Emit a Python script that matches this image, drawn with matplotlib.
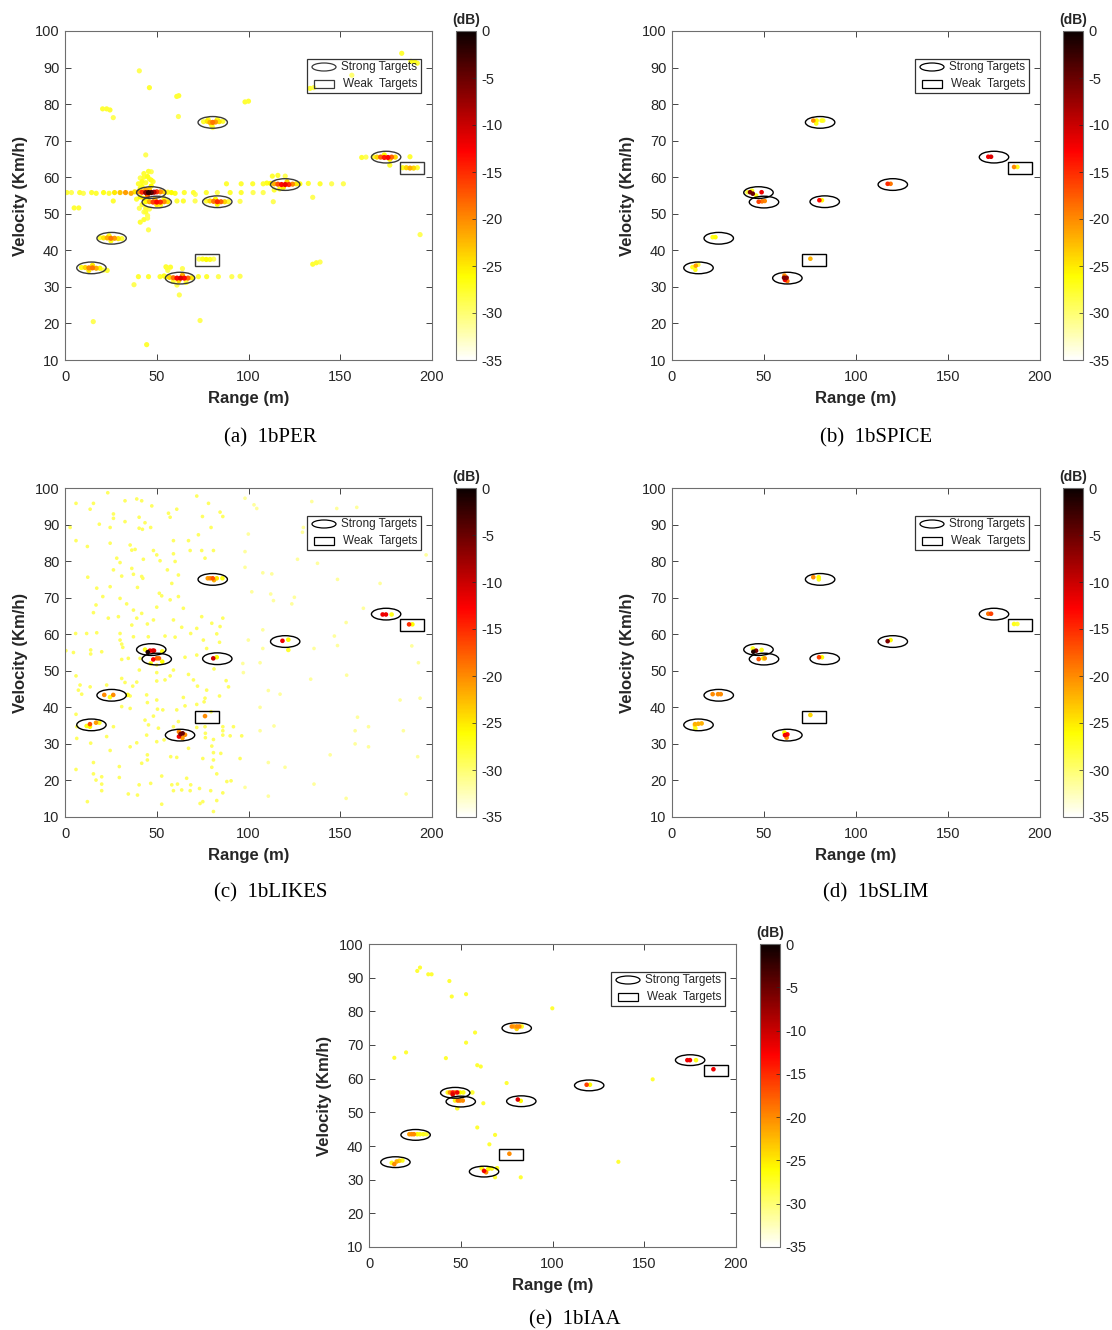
import matplotlib
matplotlib.use("Agg")
import matplotlib.pyplot as plt
import numpy as np
from matplotlib.patches import Ellipse, Rectangle
from matplotlib.cm import ScalarMappable
from matplotlib.colors import Normalize

plt.rcParams["font.family"] = ["Liberation Sans", "DejaVu Sans"]
plt.rcParams["axes.unicode_minus"] = False

# ---------------- data ----------------
X_TICKS = [0, 50, 100, 150, 200]
Y_TICKS = [10, 20, 30, 40, 50, 60, 70, 80, 90, 100]
CB_TICKS = [-35, -30, -25, -20, -15, -10, -5, 0]

# target markers (range m, velocity km/h)
STRONG_R = [80.5, 175, 120, 47, 50, 83, 25.4, 14.4, 62.7]
STRONG_V = [75, 65.5, 58, 55.8, 53.2, 53.3, 43.3, 35.2, 32.4]
WEAK_R = [77.4, 189.3]
WEAK_V = [37.4, 62.5]

# (a) periodogram: peaks (range, velocity, dB)
PER_PEAKS = [
    (75.5, 75.2, -28), (77.5, 75.3, -25), (79, 75, -22), (80.5, 75, -19), (82, 75.1, -21),
    (84, 75.2, -25), (86, 75.3, -28), (80, 74.2, -27), (80.5, 73.6, -29), (78, 75.8, -27), (83, 75.8, -27),
    (168, 65.6, -28), (170, 65.5, -24), (172, 65.5, -18), (174, 65.4, -14), (176, 65.4, -13),
    (178, 65.5, -18), (180, 65.5, -24), (174, 66.1, -26), (177, 64.9, -25),
    (112, 58.3, -26), (114, 58.2, -22), (116, 58.1, -17), (118, 58, -13), (120, 58, -12),
    (122, 58, -15), (124, 58.1, -20), (126, 58.2, -25), (119, 57.2, -25), (121, 58.8, -24),
    (113, 60.3, -28), (116, 60.5, -28), (120, 60.3, -29), (114, 56.5, -28), (117, 56.8, -27),
    (38, 56, -25), (40, 56, -21), (42, 55.9, -15), (44, 55.8, -7), (45.5, 55.8, -2), (47, 55.8, -4),
    (48.5, 55.9, -9), (50, 56, -15), (52, 56, -20), (54, 56, -24), (56, 55.9, -27), (44, 56.6, -22),
    (46, 56.7, -23), (45, 55, -18), (42, 57.5, -27), (44, 58.5, -28), (46, 59.5, -28), (43, 61, -28),
    (45, 60.2, -27), (41, 57, -27), (47, 57.6, -26), (41, 54.6, -26), (43, 54.2, -25), (45, 53.8, -27),
    (42, 52.5, -28), (44, 51.5, -28), (43, 50.5, -29), (45, 49.5, -29),
    (40, 58.2, -28), (48, 58.8, -28), (41, 59.8, -29), (47, 61.5, -29), (39, 54, -28), (40.5, 51.5, -29),
    (44, 53.3, -26), (46, 53.3, -22), (48, 53.2, -16), (50, 53.2, -13), (52, 53.2, -15),
    (54, 53.3, -20), (56, 53.3, -25), (50, 52.5, -25), (49, 54, -24), (52, 52.4, -27), (54, 54.1, -27),
    (77, 53.5, -28), (79, 53.5, -24), (81, 53.4, -19), (83, 53.3, -15), (85, 53.3, -18),
    (87, 53.3, -24), (89, 53.3, -28), (83, 52.6, -26), (82, 54, -26),
    (19, 43.5, -28), (21, 43.4, -25), (23, 43.4, -22), (25, 43.3, -19), (27, 43.3, -21),
    (29, 43.2, -25), (31, 43.2, -28), (25, 42.6, -27), (24, 44, -27),
    (9, 35.3, -27), (11, 35.3, -24), (13, 35.2, -20), (15, 35.2, -19), (17, 35.1, -22),
    (19, 35.1, -26), (13, 34.5, -25), (15, 35.9, -25), (21, 34.6, -29), (23, 34.5, -28),
    (55, 32.7, -27), (57, 32.6, -24), (59, 32.5, -19), (61, 32.4, -13), (63, 32.4, -11),
    (65, 32.4, -13), (67, 32.4, -18), (69, 32.5, -25), (62, 31.7, -24), (64, 33.2, -22),
    (59, 31.5, -28), (66, 31.2, -28), (56, 34.5, -29), (64, 35, -29), (55, 35.5, -28), (61, 30.5, -29),
    (73, 37.6, -29), (75, 37.6, -27), (77, 37.5, -26), (79, 37.5, -27), (81, 37.6, -29),
    (184, 62.6, -27), (186, 62.6, -24), (188, 62.5, -22), (190, 62.5, -24), (192, 62.6, -28),
]

# (a) periodogram: sidelobe rows, streaks and isolated spots
PER_SIDELOBES = [
    (1, 55.8, -28), (3.5, 55.8, -29), (8, 55.8, -28), (10, 55.6, -29), (14.5, 55.8, -28),
    (17, 55.6, -28), (21, 55.8, -27), (24, 55.6, -28), (27, 55.8, -25), (30, 55.8, -23),
    (33, 55.8, -21), (36, 55.6, -22), (58, 55.8, -26), (60, 55.6, -27), (65, 55.8, -28),
    (70, 55.8, -28), (71, 55.3, -29), (77, 55.8, -28), (83, 55.8, -29), (90, 55.8, -28),
    (96, 55.8, -28), (102.5, 55.8, -29), (108, 55.8, -29),
    (26.3, 53.5, -28), (61, 53.5, -28), (64.5, 53.5, -28), (70.9, 53.5, -29), (95.4, 53.4, -29),
    (113.5, 53.3, -29),
    (88, 58.2, -28), (96, 58.2, -28), (102.3, 58.2, -28), (108, 58.2, -28), (110, 58.4, -27),
    (128, 58.2, -27), (132.6, 58.3, -28), (139, 58.2, -28), (145.3, 58.2, -29), (151.7, 58.2, -29),
    (40, 32.8, -28), (45.5, 32.8, -28), (51.8, 32.8, -28), (54, 33, -27), (72.7, 32.8, -28),
    (77.2, 32.8, -28), (83.6, 32.8, -29), (90.9, 32.8, -29), (95.4, 32.9, -29),
    (44, 66.1, -29), (45.5, 61.6, -28), (43, 60, -28), (47, 59.2, -27), (42, 58.8, -27),
    (44, 50.5, -28), (46, 51.3, -29), (41, 47.7, -28), (43, 48.4, -28), (45, 48.8, -29), (45.5, 45.6, -29),
    (40.5, 89.1, -29), (46, 84.5, -28), (60.9, 82.1, -28), (62, 82.3, -28), (61.8, 76.6, -29),
    (20.5, 78.7, -28), (22.7, 78.7, -28), (24.5, 78.4, -28), (26.3, 76.3, -29), (98.1, 80.6, -28),
    (100, 80.8, -28), (133.5, 84.3, -28), (135.5, 84.5, -29), (156.3, 87.9, -30), (183.5, 93.9, -28),
    (188.5, 91.7, -27), (190.5, 91.6, -27), (192, 91.2, -28), (188, 65.6, -28), (177, 63.3, -28),
    (161.7, 65.4, -28), (164, 65.5, -29), (193.5, 44.3, -29), (135, 36.2, -28), (137, 36.6, -28),
    (139, 36.8, -29), (5, 51.6, -28), (7.5, 51.6, -28), (15.4, 20.5, -29), (44.5, 14.2, -28),
    (73.6, 20.8, -29), (62.3, 27.8, -29), (37.6, 30.6, -29), (135, 54.5, -29), (55.4, 35.3, -28),
    (57.5, 35.4, -28),
]

# (b) SPICE
SPICE_PEAKS = [
    (76.8, 75.5, -20), (78.6, 75.5, -26), (78.4, 74.7, -27), (81.3, 75.5, -27), (82.2, 75.5, -28),
    (171.9, 65.6, -12), (173.4, 65.6, -11), (185.9, 62.8, -20), (187.7, 62.8, -27),
    (117.2, 58.2, -15), (118.8, 58.2, -19),
    (41.0, 55.9, -28), (42.4, 55.9, -6), (43.9, 55.5, -5), (43.5, 56.3, -27), (45.7, 55.0, -27), (48.7, 55.9, -12),
    (47.1, 53.3, -16), (48.9, 53.4, -19), (50.4, 53.5, -20), (80.1, 53.7, -13), (81.5, 53.7, -26),
    (22.1, 43.6, -27), (23.6, 43.6, -26),
    (11.1, 35.4, -27), (12.9, 35.8, -21), (14.3, 36.1, -28), (12.7, 34.7, -27),
    (61.1, 33.1, -20), (60.9, 32.5, -6), (62.3, 32.5, -7), (61.4, 31.9, -12), (62.7, 31.6, -19),
    (75.2, 37.7, -22),
]

# (c) LIKES
LIKES_PEAKS = [
    (77.8, 75.3, -21), (79.1, 75.3, -20), (80.5, 75.3, -17), (81.2, 74.8, -22), (82.7, 75.3, -25), (85.8, 75.3, -27),
    (173.1, 65.4, -12), (174.9, 65.4, -12), (178.0, 65.4, -27), (187.5, 62.7, -15), (189.3, 62.7, -26),
    (118.5, 58.2, -12), (121.7, 58.5, -26), (121.7, 55.7, -28),
    (43.6, 55.8, -27), (45.1, 55.1, -1), (46.3, 55.5, -12), (47.8, 55.5, -11), (48.5, 55.5, -12), (53.0, 55.3, -27),
    (48.1, 53.1, -13), (50.0, 53.4, -18), (51.2, 53.4, -18), (53.0, 52.5, -26), (46.7, 52.0, -27),
    (80.8, 53.4, -10), (82.7, 53.7, -26),
    (21.4, 43.4, -20), (26.3, 43.4, -20), (24.5, 42.8, -27), (34.2, 43.4, -27),
    (13.6, 35.4, -17), (16.9, 35.8, -21), (18.7, 35.8, -27), (11.8, 34.9, -27), (13.6, 34.7, -26),
    (62.1, 33.3, -20), (63.0, 32.7, -6), (64.1, 32.9, -5), (65.4, 32.5, -20), (62.1, 32.0, -12), (64.0, 31.6, -21),
    (76.3, 37.6, -20),
]
LIKES_NOISE_DB = -29.5
LIKES_NOISE = [
    (23.3, 98.7), (6.0, 95.8), (15.5, 95.8), (13.7, 94.2), (32.7, 96.5), (39.1, 97.0), (41.8, 96.5),
    (47.3, 95.1), (26.4, 92.9), (26.4, 91.7), (32.7, 90.8), (40.4, 92.0), (43.6, 90.5), (18.7, 90.1),
    (2.8, 89.2), (24.6, 89.2), (40.4, 89.0), (42.2, 88.7), (46.7, 89.2), (56.4, 93.1), (57.3, 92.0),
    (60.9, 94.2), (71.8, 97.8), (78.2, 95.8), (84.5, 93.4), (86.0, 92.2), (74.9, 92.2), (79.6, 89.2),
    (72.7, 87.2), (59.1, 85.6), (67.3, 85.6), (6.0, 85.6), (12.2, 84.0), (24.6, 84.9), (35.5, 84.4),
    (36.4, 83.0), (38.2, 83.2), (48.2, 82.9), (50.0, 81.7), (59.1, 82.0), (68.2, 82.9), (74.5, 82.9),
    (80.9, 82.9), (76.3, 80.8), (28.2, 80.8), (30.0, 79.6), (42.7, 80.5), (51.8, 80.1), (60.0, 79.9),
    (55.8, 77.6), (61.8, 76.2), (26.4, 77.6), (36.4, 78.0), (37.3, 76.4), (41.8, 75.8), (42.4, 75.3),
    (30.9, 75.9), (12.4, 75.6), (17.3, 72.6), (24.6, 73.0), (39.5, 72.8), (51.4, 71.2), (52.7, 70.5),
    (58.2, 73.9), (61.8, 70.3), (20.6, 70.3), (16.9, 68.0), (33.6, 68.3), (30.0, 69.8), (37.3, 66.6),
    (41.8, 65.7), (50.0, 67.4), (57.3, 69.4), (15.5, 65.9), (23.6, 64.4), (29.1, 64.8), (39.1, 64.4),
    (36.4, 62.5), (44.9, 62.8), (48.2, 63.9), (59.1, 63.9), (64.5, 67.1), (74.5, 64.8), (80.0, 63.0),
    (86.0, 64.4), (63.6, 61.9), (71.8, 61.6), (84.5, 62.1), (5.8, 60.2), (11.8, 60.2), (17.3, 60.4),
    (30.0, 60.2), (37.3, 59.3), (45.4, 59.3), (54.5, 59.5), (60.0, 59.2), (68.5, 60.2), (82.7, 60.1),
    (75.4, 58.4), (84.2, 57.8), (0.5, 55.5), (4.6, 55.0), (14.0, 55.7), (14.0, 54.6), (20.0, 55.2),
    (30.9, 57.3), (30.0, 58.4), (31.5, 56.4), (34.5, 53.4), (30.9, 53.1), (40.9, 53.4), (40.5, 50.2),
    (50.0, 51.6), (50.0, 49.5), (59.1, 50.2), (65.4, 53.7), (71.8, 54.3), (77.2, 56.1), (81.2, 50.5),
    (6.0, 48.6), (8.2, 46.1), (13.7, 45.6), (22.7, 46.1), (30.9, 47.9), (32.7, 46.8), (36.9, 45.8),
    (39.1, 46.9), (50.0, 47.2), (54.5, 47.5), (44.5, 43.4), (57.3, 48.6), (67.3, 49.0), (70.0, 47.5),
    (72.2, 45.8), (77.2, 44.7), (84.2, 43.1), (87.8, 47.3), (89.1, 45.6), (7.3, 44.7), (9.1, 43.6),
    (35.5, 43.1), (30.9, 40.2), (35.5, 39.7), (44.9, 41.3), (50.0, 42.0), (53.3, 39.3), (50.4, 39.5),
    (60.9, 39.3), (65.4, 40.4), (64.5, 42.7), (71.8, 40.8), (75.8, 41.5), (76.3, 42.5), (79.6, 38.8),
    (6.0, 38.1), (6.4, 34.7), (6.4, 31.5), (14.0, 30.2), (24.6, 28.2), (22.7, 32.0), (26.4, 34.7),
    (39.1, 30.3), (44.5, 32.4), (35.5, 29.2), (50.9, 34.3), (45.5, 35.2), (43.6, 36.5), (48.2, 37.6),
    (50.0, 30.6), (54.0, 31.1), (59.1, 34.7), (61.8, 36.1), (67.3, 28.8), (71.8, 34.5), (76.3, 34.7),
    (76.5, 32.9), (76.5, 31.7), (80.9, 31.2), (86.0, 34.7), (86.0, 33.6), (86.0, 32.4), (80.0, 29.4),
    (90.0, 32.2), (91.8, 34.7), (96.3, 32.2), (6.0, 23.0), (15.5, 24.9), (15.5, 21.8), (16.9, 20.1),
    (20.0, 21.0), (20.0, 19.0), (20.0, 17.2), (29.6, 23.8), (29.6, 20.8), (34.5, 16.3), (39.5, 16.0),
    (40.4, 18.8), (46.7, 19.2), (44.9, 27.0), (44.9, 25.6), (41.8, 24.7), (52.7, 21.2), (52.7, 13.5),
    (57.6, 26.5), (60.9, 26.3), (58.2, 18.8), (59.1, 17.2), (61.3, 19.0), (63.6, 17.4), (66.3, 20.6),
    (68.2, 17.2), (68.5, 18.8), (73.3, 17.8), (73.6, 13.7), (75.1, 14.2), (75.1, 26.0), (80.9, 25.6),
    (80.0, 23.6), (80.9, 27.6), (79.4, 17.2), (82.7, 14.5), (86.0, 16.6), (88.2, 19.7), (82.7, 21.8),
    (84.9, 27.4), (90.5, 19.9), (12.2, 14.2), (95.4, 26.0), (80.9, 11.5),
]
LIKES_FAINT_DB = -31.5
LIKES_FAINT = [
    (98.1, 97.2), (103.0, 95.4), (104.5, 94.4), (99.9, 87.4), (134.5, 96.3), (148.1, 94.4), (159.0, 94.7),
    (129.9, 89.2), (129.4, 87.9), (98.1, 82.6), (98.1, 78.3), (126.7, 80.5), (137.6, 79.4), (107.8, 76.8),
    (112.7, 76.5), (148.5, 75.0), (171.7, 73.9), (101.8, 71.6), (112.1, 71.0), (113.6, 69.2), (125.0, 70.1),
    (123.6, 68.3), (162.6, 67.1), (153.2, 63.2), (99.9, 58.4), (107.8, 61.2), (107.8, 56.1), (146.8, 59.5),
    (148.5, 56.9), (135.7, 56.1), (96.9, 52.0), (97.2, 49.5), (106.3, 52.2), (189.0, 56.8), (192.6, 52.2),
    (153.5, 48.8), (133.9, 47.7), (110.8, 44.6), (117.2, 43.6), (106.3, 40.0), (182.6, 42.0), (193.5, 42.5),
    (159.4, 37.3), (165.4, 34.7), (113.9, 34.9), (106.3, 33.6), (158.1, 33.6), (184.4, 33.6), (158.1, 30.0),
    (165.4, 29.2), (144.5, 27.0), (110.8, 24.9), (119.9, 23.6), (192.2, 26.5), (135.7, 19.0), (98.1, 18.1),
    (110.8, 15.7), (153.2, 15.1), (185.9, 16.3), (196.8, 81.7),
]

# (d) SLIM
SLIM_PEAKS = [
    (76.8, 75.6, -20), (79.7, 75.6, -26), (79.8, 75.0, -27),
    (171.9, 65.6, -19), (173.4, 65.6, -16), (185.9, 62.8, -27), (187.7, 62.8, -28),
    (117.2, 58.1, -6), (118.8, 58.4, -26),
    (43.9, 56.1, -27), (44.2, 55.2, -1), (45.7, 55.5, -6), (48.7, 55.7, -27),
    (47.1, 53.2, -17), (49.6, 53.4, -26), (50.4, 53.4, -21), (79.9, 53.7, -16), (81.5, 53.7, -26),
    (22.1, 43.6, -20), (25.0, 43.6, -20), (26.5, 43.6, -20),
    (12.5, 35.4, -22), (14.3, 35.5, -22), (16.1, 35.6, -22), (12.7, 34.2, -27), (12.5, 35.0, -27),
    (61.1, 33.1, -26), (61.4, 32.4, -12), (62.7, 32.6, -13), (62.3, 31.7, -20),
    (75.2, 37.9, -24),
]

# (e) IAA
IAA_PEAKS = [
    (77.8, 75.5, -20), (79.0, 75.5, -22), (80.5, 75.5, -20), (81.9, 75.5, -20), (83.2, 75.5, -27), (80.5, 74.8, -24),
    (173.5, 65.5, -12), (174.9, 65.5, -12), (178.2, 65.5, -27), (187.7, 62.8, -12),
    (118.6, 58.2, -16), (120.4, 58.2, -26),
    (42.9, 55.9, -27), (44.1, 55.9, -20), (45.6, 55.9, -14), (46.9, 55.9, -20), (48.1, 55.9, -12),
    (49.6, 55.9, -26), (51.4, 55.9, -27), (56.3, 55.9, -28), (45.6, 55.3, -11),
    (46.9, 53.5, -27), (48.4, 53.5, -19), (49.6, 53.5, -20), (51.1, 53.5, -20), (48.1, 51.2, -28),
    (81.1, 53.8, -11), (82.7, 53.4, -26),
    (22.0, 43.5, -21), (23.3, 43.5, -20), (24.5, 43.5, -20), (26.3, 43.5, -26), (27.8, 43.5, -27),
    (29.6, 43.5, -27), (31.4, 43.5, -28),
    (12.4, 35.0, -27), (13.8, 34.6, -20), (15.1, 35.4, -22), (16.5, 35.6, -24), (18.2, 35.7, -27),
    (61.4, 33.4, -27), (62.7, 32.6, -12), (63.8, 32.2, -20), (65.0, 33.2, -26), (66.9, 33.3, -27), (69.8, 33.4, -27),
    (76.5, 37.7, -20),
]
IAA_SPUR_DB = -28
IAA_SPURS = [
    (26.3, 92.0), (27.8, 93.0), (32.3, 91.0), (34.1, 91.0), (43.8, 89.0), (45.1, 84.4), (52.9, 85.1),
    (99.9, 80.9), (57.8, 73.7), (52.9, 70.7), (20.2, 67.8), (13.8, 66.2), (41.9, 66.1), (59.0, 64.0),
    (60.9, 63.6), (75.0, 58.7), (62.3, 52.7), (59.0, 45.5), (68.7, 43.3), (65.6, 40.5), (135.9, 35.3),
    (154.6, 59.8), (68.7, 30.7), (82.7, 30.7),
]

# ---------------- drawing ----------------
W, H = 1112, 1330
fig = plt.figure(figsize=(W / 100, H / 100), dpi=100)
fig.patch.set_facecolor("white")
CMAP = "hot_r"
NORM = Normalize(vmin=-35, vmax=0)
FRAME = "#6e6e6e"
TXT = "#262626"


def px_axes(l, t, r, b):
    return fig.add_axes([l / W, 1 - b / H, (r - l) / W, (b - t) / H])


def with_db(pairs, db):
    return [(r, v, db) for r, v in pairs]


def panel(box, cbox, cap_x, cap_y, caption, layers, ring="black"):
    l, t, r, b = box
    ax = px_axes(*box)
    for points, size in layers:
        pts = np.array(points, float)
        pts = pts[np.argsort(pts[:, 2])]
        ax.scatter(pts[:, 0], pts[:, 1], c=pts[:, 2], cmap=CMAP, norm=NORM, s=size,
                   edgecolors="none", zorder=2)
    for x, y in zip(STRONG_R, STRONG_V):
        ax.add_patch(Ellipse((x, y), 16, 3.2, fill=False, ec=ring, lw=1.0, zorder=3))
    for x, y in zip(WEAK_R, WEAK_V):
        ax.add_patch(Rectangle((x - 6.5, y - 1.6), 13, 3.2, fill=False, ec=ring, lw=1.0, zorder=3))
    ax.set_xlim(0, 200); ax.set_ylim(10, 100)
    ax.set_xticks(X_TICKS); ax.set_yticks(Y_TICKS)
    ax.tick_params(direction="in", top=True, right=True, length=4, width=0.6,
                   labelsize=10.5, colors=TXT)
    ax.tick_params(axis="x", pad=7)
    ax.tick_params(axis="y", pad=4)
    for s in ax.spines.values():
        s.set_color(FRAME); s.set_linewidth(0.8)
    ax.set_xlabel("Range (m)", fontsize=12, fontweight="bold", color=TXT, labelpad=5)
    ax.set_ylabel("Velocity (Km/h)", fontsize=12, fontweight="bold", color=TXT, labelpad=5)

    # legend drawn in pixel offsets from the top-right corner
    aw, ah = r - l, b - t
    fx = lambda d: 1 - d / aw
    fy = lambda d: 1 - d / ah
    ax.add_patch(Rectangle((fx(125), fy(62)), 114 / aw, 34 / ah, transform=ax.transAxes,
                           fill=False, ec="#333333", lw=0.9, zorder=4))
    ax.add_patch(Ellipse((fx(108), fy(36)), 24 / aw, 8 / ah, transform=ax.transAxes,
                         fill=False, ec=ring, lw=0.9, zorder=4))
    ax.add_patch(Rectangle((fx(118), fy(57)), 20 / aw, 8 / ah, transform=ax.transAxes,
                           fill=False, ec=ring, lw=0.9, zorder=4))
    ax.text(fx(91), fy(36), "Strong Targets", transform=ax.transAxes, fontsize=8.5,
            va="center", ha="left", color=TXT, zorder=4)
    ax.text(fx(89), fy(53), "Weak  Targets", transform=ax.transAxes, fontsize=8.5,
            va="center", ha="left", color=TXT, zorder=4)

    cax = px_axes(*cbox)
    cb = fig.colorbar(ScalarMappable(norm=NORM, cmap=CMAP), cax=cax, ticks=CB_TICKS)
    cb.outline.set_edgecolor(FRAME); cb.outline.set_linewidth(0.8)
    cax.tick_params(direction="in", length=3, width=0.5, labelsize=10.5, colors=TXT, pad=4)
    cax.set_title("(dB)", fontsize=10, fontweight="bold", color=TXT, pad=5)

    fig.text(cap_x / W, 1 - cap_y / H, caption, ha="center", va="center",
             fontsize=15, family=["Liberation Serif", "DejaVu Serif"], color="black")


panel((65, 31, 432, 360), (456, 31, 476, 360), 270, 438, "(a)  1bPER",
      [(PER_SIDELOBES + PER_PEAKS, 14)], ring="#3a3a3a")
panel((672, 31, 1040, 360), (1063, 31, 1083, 360), 876, 438, "(b)  1bSPICE",
      [(SPICE_PEAKS, 11)])
panel((65, 488, 432, 817), (456, 488, 476, 817), 271, 893, "(c)  1bLIKES",
      [(with_db(LIKES_FAINT, LIKES_FAINT_DB) + with_db(LIKES_NOISE, LIKES_NOISE_DB), 7),
       (LIKES_PEAKS, 11)])
panel((672, 488, 1040, 817), (1063, 488, 1083, 817), 876, 893, "(d)  1bSLIM",
      [(SLIM_PEAKS, 11)])
panel((369, 944, 736, 1247), (760, 944, 780, 1247), 575, 1320, "(e)  1bIAA",
      [(with_db(IAA_SPURS, IAA_SPUR_DB), 9), (IAA_PEAKS, 11)])

fig.savefig("out.png", dpi=100, facecolor="white")
print("saved out.png")
